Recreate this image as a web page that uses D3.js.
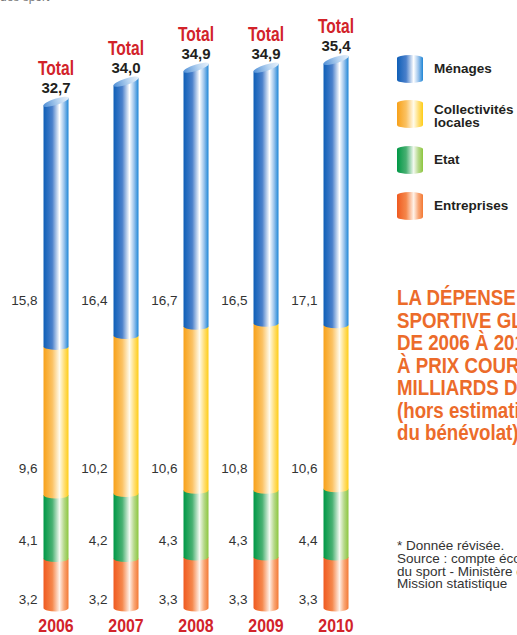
<!DOCTYPE html>
<html lang="fr">
<head>
  <meta charset="UTF-8">
  <title>La dépense sportive globale 2006-2010</title>
  <style>
    html, body { margin: 0; padding: 0; background: #fff; }
    svg { display: block; }
    text { font-family: "Liberation Sans", Arial, sans-serif; }
  </style>
</head>
<body>
<svg width="517" height="635"></svg>
<script src="https://cdn.jsdelivr.net/npm/d3@7"></script>
<script>

// data (milliards d'euros, prix courants)
const years = ["2006", "2007", "2008", "2009", "2010"];
const entreprises = [3.2, 3.2, 3.3, 3.3, 3.3];
const etat = [4.1, 4.2, 4.3, 4.3, 4.4];
const collectivites = [9.6, 10.2, 10.6, 10.8, 10.6];
const menages = [15.8, 16.4, 16.7, 16.5, 17.1];
const totals = [32.7, 34.0, 34.9, 34.9, 35.4];

const seriesNames = ["Entreprises", "Etat", "Collectivités locales", "Ménages"];
const legendLabels = [["Ménages"], ["Collectivités", "locales"], ["Etat"], ["Entreprises"]];

const titleLines = ["LA DÉPENSE", "SPORTIVE GLOBALE", "DE 2006 À 2010", "À PRIX COURANTS EN",
  "MILLIARDS D'EUROS", "(hors estimation", "du bénévolat)"];
const noteLines = ["* Donnée révisée.", "Source : compte économique", "du sport - Ministère des Sports,",
  "Mission statistique"];

const series = [entreprises, etat, collectivites, menages];

// gradient colour stops, bottom series first
const gradients = [
  ["#ef5a20", "#f5874b", "#fff2e8", "#f9a878", "#f37935"],
  ["#009846", "#48b072", "#f3f9ef", "#b6d98b", "#8dc63f"],
  ["#f7a11a", "#fbc262", "#fffbea", "#ffe07c", "#ffcd17"],
  ["#0f5fb7", "#4a80cb", "#ffffff", "#9cc4ec", "#1f86d6"]
];

const svg = d3.select("svg");
const defs = svg.append("defs");

gradients.forEach(function (stops, i) {
  const g = defs.append("linearGradient")
      .attr("id", "grad" + i)
      .attr("x1", "0%").attr("x2", "100%").attr("y1", "0%").attr("y2", "0%");
  [0, 0.35, 0.64, 0.82, 1].forEach(function (o, j) {
    g.append("stop").attr("offset", o).attr("stop-color", stops[j]);
  });
});

const cap = defs.append("linearGradient")
    .attr("id", "capgrad")
    .attr("x1", "0%").attr("x2", "100%").attr("y1", "0%").attr("y2", "0%");
cap.append("stop").attr("offset", 0).attr("stop-color", "#4f8fd6");
cap.append("stop").attr("offset", 0.6).attr("stop-color", "#b9d5f1");
cap.append("stop").attr("offset", 1).attr("stop-color", "#e6f0fb");

// condensed bold text: no narrow font installed, so squeeze Liberation Sans
function narrow(parent, tx, ty, str, size, sx, anchor, color) {
  return parent.append("text")
      .attr("transform", "translate(" + tx + "," + ty + ") scale(" + sx + ",1)")
      .attr("text-anchor", anchor)
      .attr("font-size", size)
      .attr("font-weight", "bold")
      .attr("fill", color)
      .text(str);
}

const x = d3.scalePoint().domain(years).range([56, 336]);
const y = d3.scaleLinear().domain([0, 35.4]).range([608, 60]);
const barW = 25;
const ry = 3.5;

// stacked values
const stacked = years.map(function (yr, i) {
  let acc = 0;
  return series.map(function (s, k) {
    const seg = { year: yr, k: k, v: s[i], y0: acc, y1: acc + s[i] };
    acc += s[i];
    return seg;
  });
});

const bars = svg.append("g").attr("class", "bars");

stacked.forEach(function (segs, i) {
  const cx = x(years[i]);
  const x0 = cx - barW / 2, x1 = cx + barW / 2;
  const g = bars.append("g");

  // bottom first, upper segments overlap the lower ones with their curved bottom
  segs.forEach(function (d) {
    const yb = y(d.y0), yt = y(d.y1);
    let p;
    if (d.k === segs.length - 1) {
      p = "M" + x0 + "," + (yt + 4) + "L" + x1 + "," + (yt - 4);
    } else {
      p = "M" + x0 + "," + yt + "L" + x1 + "," + yt;
    }
    p += "L" + x1 + "," + yb + "A" + (barW / 2) + "," + ry + " 0 0 1 " + x0 + "," + yb + "Z";
    g.append("path").attr("d", p).attr("fill", "url(#grad" + d.k + ")");
  });

  const top = y(totals[i]);
  g.append("ellipse")
      .attr("cx", cx).attr("cy", top)
      .attr("rx", barW / 2 + 0.8).attr("ry", 3.2)
      .attr("transform", "rotate(-18," + cx + "," + top + ")")
      .attr("fill", "url(#capgrad)");

  // total labels
  narrow(svg, cx, top - 27, "Total", 20, 0.78, "middle", "#d2232a");
  svg.append("text")
      .attr("x", cx).attr("y", top - 9)
      .attr("text-anchor", "middle")
      .attr("font-size", 15)
      .attr("font-weight", "bold")
      .attr("fill", "#231f20")
      .text(d3.format(".1f")(totals[i]).replace(".", ","));

  // year labels
  narrow(svg, cx, 632, years[i], 18.5, 0.86, "middle", "#d2232a");
});

// segment values, on fixed rows left of each bar
const rowY = [604, 545, 473, 305];
stacked.forEach(function (segs, i) {
  const x0 = x(years[i]) - barW / 2;
  segs.forEach(function (d) {
    svg.append("text")
        .attr("x", x0 - 6).attr("y", rowY[d.k])
        .attr("text-anchor", "end")
        .attr("font-size", 13.5)
        .attr("fill", "#333")
        .text(d3.format(".1f")(d.v).replace(".", ","));
  });
});

// legend
const legendTop = [55, 100, 146, 192];
const legendColor = [3, 2, 1, 0];
legendLabels.forEach(function (lines, i) {
  const lx0 = 397, lx1 = 423, ly = legendTop[i], lh = 28;
  svg.append("path")
      .attr("d", "M" + lx0 + "," + (ly + 3) + "A13,3 0 0 1 " + lx1 + "," + (ly + 3) +
          "L" + lx1 + "," + (ly + lh - 3) + "A13,3 0 0 1 " + lx0 + "," + (ly + lh - 3) + "Z")
      .attr("fill", "url(#grad" + legendColor[i] + ")");
  const t = svg.append("text")
      .attr("x", 434)
      .attr("y", lines.length > 1 ? ly + 14 : ly + 18)
      .attr("font-size", 13.5)
      .attr("font-weight", "bold")
      .attr("fill", "#231f20");
  lines.forEach(function (l, j) {
    t.append("tspan").attr("x", 434).attr("dy", j ? 13 : 0).text(l);
  });
});

// title
titleLines.forEach(function (l, i) {
  narrow(svg, 397, 305 + i * 22.5, l, 21.5, 0.87, "start", "#ec6b2a");
});

// note
noteLines.forEach(function (l, i) {
  svg.append("text")
      .attr("x", 397).attr("y", 550 + i * 12.8)
      .attr("font-size", 13.5)
      .attr("fill", "#333")
      .text(l);
});

// cut-off header line at the very top
svg.append("text")
    .attr("x", 0).attr("y", 1)
    .attr("font-size", 12)
    .attr("fill", "#777")
    .text("des sport");

</script>
</body>
</html>
